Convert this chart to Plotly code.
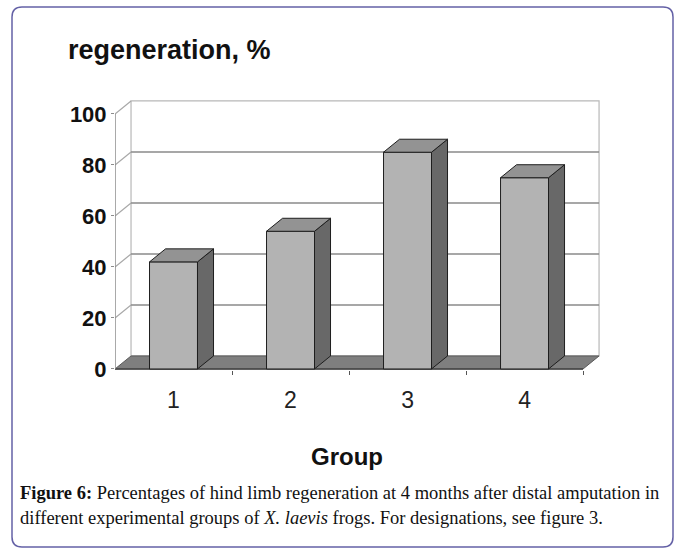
import plotly.graph_objects as go

# ---- data ----
groups = ["1", "2", "3", "4"]
regeneration = [42, 54, 85, 75]
y_ticks = [0, 20, 40, 60, 80, 100]

# ---- geometry / style constants ----
W, H = 678, 549
L, R, T, B = 115, 620, 90, 370
X_MAX = 4.316
Y_MIN, Y_MAX = -0.4, 109.4
DX, DY = 0.137, 5.1          # oblique depth offset (data units)
BAR_W = 0.41
N = len(groups)
centers = [i + 0.5 for i in range(N)]

FRONT = "#b3b3b3"
SIDE = "#686868"
TOP = "#939393"
FLOOR = "#7f7f7f"
EDGE = "#1e1e1e"
SANS = "Arial, Liberation Sans, sans-serif"
SERIF = "Times New Roman, Liberation Serif, serif"


def px(x):
    return (x - L) / (R - L)


def py(y):
    return (B - y) / (B - T)


fig = go.Figure()

# front faces of bars
fig.add_trace(go.Bar(
    x=centers, y=regeneration, width=BAR_W,
    marker=dict(color=FRONT, line=dict(color=EDGE, width=1)),
    hoverinfo="skip", showlegend=False,
))

# side faces and top faces
sx, sy, tx, ty = [], [], [], []
for c, v in zip(centers, regeneration):
    r = c + BAR_W / 2
    l = c - BAR_W / 2
    sx += [r, r + DX, r + DX, r, r, None]
    sy += [0, DY, v + DY, v, 0, None]
    tx += [l, r, r + DX, l + DX, l, None]
    ty += [v, v, v + DY, v + DY, v, None]
fig.add_trace(go.Scatter(x=sx, y=sy, mode="lines", fill="toself",
                         fillcolor=SIDE, line=dict(color=EDGE, width=1),
                         hoverinfo="skip", showlegend=False))
fig.add_trace(go.Scatter(x=tx, y=ty, mode="lines", fill="toself",
                         fillcolor=TOP, line=dict(color=EDGE, width=1),
                         hoverinfo="skip", showlegend=False))

shapes = []
top_v = y_ticks[-1]
# back wall
shapes.append(dict(type="rect", xref="x", yref="y", layer="below",
                   x0=DX, y0=DY, x1=N + DX, y1=top_v + DY,
                   fillcolor="white", line=dict(color="#b8b8b8", width=1.2)))
# gridlines on back wall
for v in y_ticks[1:-1]:
    shapes.append(dict(type="line", xref="x", yref="y", layer="below",
                       x0=DX, y0=v + DY, x1=N + DX, y1=v + DY,
                       line=dict(color="#8a8a8a", width=1.6)))
# diagonal connectors from front axis to back wall
for v in y_ticks[1:]:
    shapes.append(dict(type="line", xref="x", yref="y", layer="below",
                       x0=0, y0=v, x1=DX, y1=v + DY,
                       line=dict(color="#a8a8a8", width=1.2)))
# floor
shapes.append(dict(type="path", xref="x", yref="y", layer="below",
                   path=f"M 0,0 L {N},0 L {N + DX},{DY} L {DX},{DY} Z",
                   fillcolor=FLOOR, line=dict(color="#5a5a5a", width=1)))
shapes.append(dict(type="line", xref="x", yref="y", layer="below",
                   x0=0, y0=0, x1=N, y1=0,
                   line=dict(color="#444444", width=1.5)))
# front value axis
shapes.append(dict(type="line", xref="x", yref="y", layer="below",
                   x0=0, y0=0, x1=0, y1=top_v,
                   line=dict(color="#8c8c8c", width=1.5)))

# outer rounded frame
fx0, fy0, fx1, fy1, rad = 12, 7, 673, 547, 10
path = (f"M {px(fx0 + rad)},{py(fy0)} L {px(fx1 - rad)},{py(fy0)} "
        f"Q {px(fx1)},{py(fy0)} {px(fx1)},{py(fy0 + rad)} "
        f"L {px(fx1)},{py(fy1 - rad)} "
        f"Q {px(fx1)},{py(fy1)} {px(fx1 - rad)},{py(fy1)} "
        f"L {px(fx0 + rad)},{py(fy1)} "
        f"Q {px(fx0)},{py(fy1)} {px(fx0)},{py(fy1 - rad)} "
        f"L {px(fx0)},{py(fy0 + rad)} "
        f"Q {px(fx0)},{py(fy0)} {px(fx0 + rad)},{py(fy0)} Z")
shapes.append(dict(type="path", xref="paper", yref="paper", path=path,
                   line=dict(color="#6461a6", width=1.5), layer="above"))

annotations = [
    dict(text="regeneration, %", xref="paper", yref="paper",
         x=px(66), y=py(50), xanchor="left", yanchor="middle",
         showarrow=False, font=dict(family=SANS, size=27, color="#111111",
                                    weight="bold")),
    dict(text="Group", xref="paper", yref="paper",
         x=px(347), y=py(456), xanchor="center", yanchor="middle",
         showarrow=False, font=dict(family=SANS, size=24, color="#111111",
                                    weight="bold")),
    dict(text="<b>Figure 6:</b> Percentages of hind limb regeneration at 4 months "
              "after distal amputation in",
         xref="paper", yref="paper", x=px(18), y=py(493),
         xanchor="left", yanchor="middle", showarrow=False,
         font=dict(family=SERIF, size=18.5, color="#111111")),
    dict(text="different experimental groups of <i>X. laevis</i> frogs. "
              "For designations, see figure 3.",
         xref="paper", yref="paper", x=px(18), y=py(518),
         xanchor="left", yanchor="middle", showarrow=False,
         font=dict(family=SERIF, size=18.5, color="#111111")),
]

fig.update_layout(
    width=W, height=H,
    margin=dict(l=L, r=W - R, t=T, b=H - B),
    paper_bgcolor="white", plot_bgcolor="white",
    shapes=shapes, annotations=annotations,
    bargap=0, showlegend=False,
    xaxis=dict(range=[0, X_MAX], tickvals=centers, ticktext=groups,
               showgrid=False, zeroline=False, showline=False, ticks="",
               tickfont=dict(family=SANS, size=23, color="#222222"),
               ticklabelstandoff=14,
               minor=dict(tickvals=list(range(1, N + 1)), ticks="outside",
                          ticklen=4, tickcolor="#555555", showgrid=False),
               fixedrange=True),
    yaxis=dict(range=[Y_MIN, Y_MAX], tickvals=y_ticks,
               showgrid=False, zeroline=False, showline=False,
               ticks="outside", ticklen=3, tickcolor="#8c8c8c",
               tickfont=dict(family=SANS, size=22, color="#111111",
                             weight="bold"),
               fixedrange=True),
)

fig.write_html("out.html",
               config={"displayModeBar": False, "staticPlot": True},
               post_script="document.body.style.margin='0';"
                           "document.body.style.overflow='hidden';")
